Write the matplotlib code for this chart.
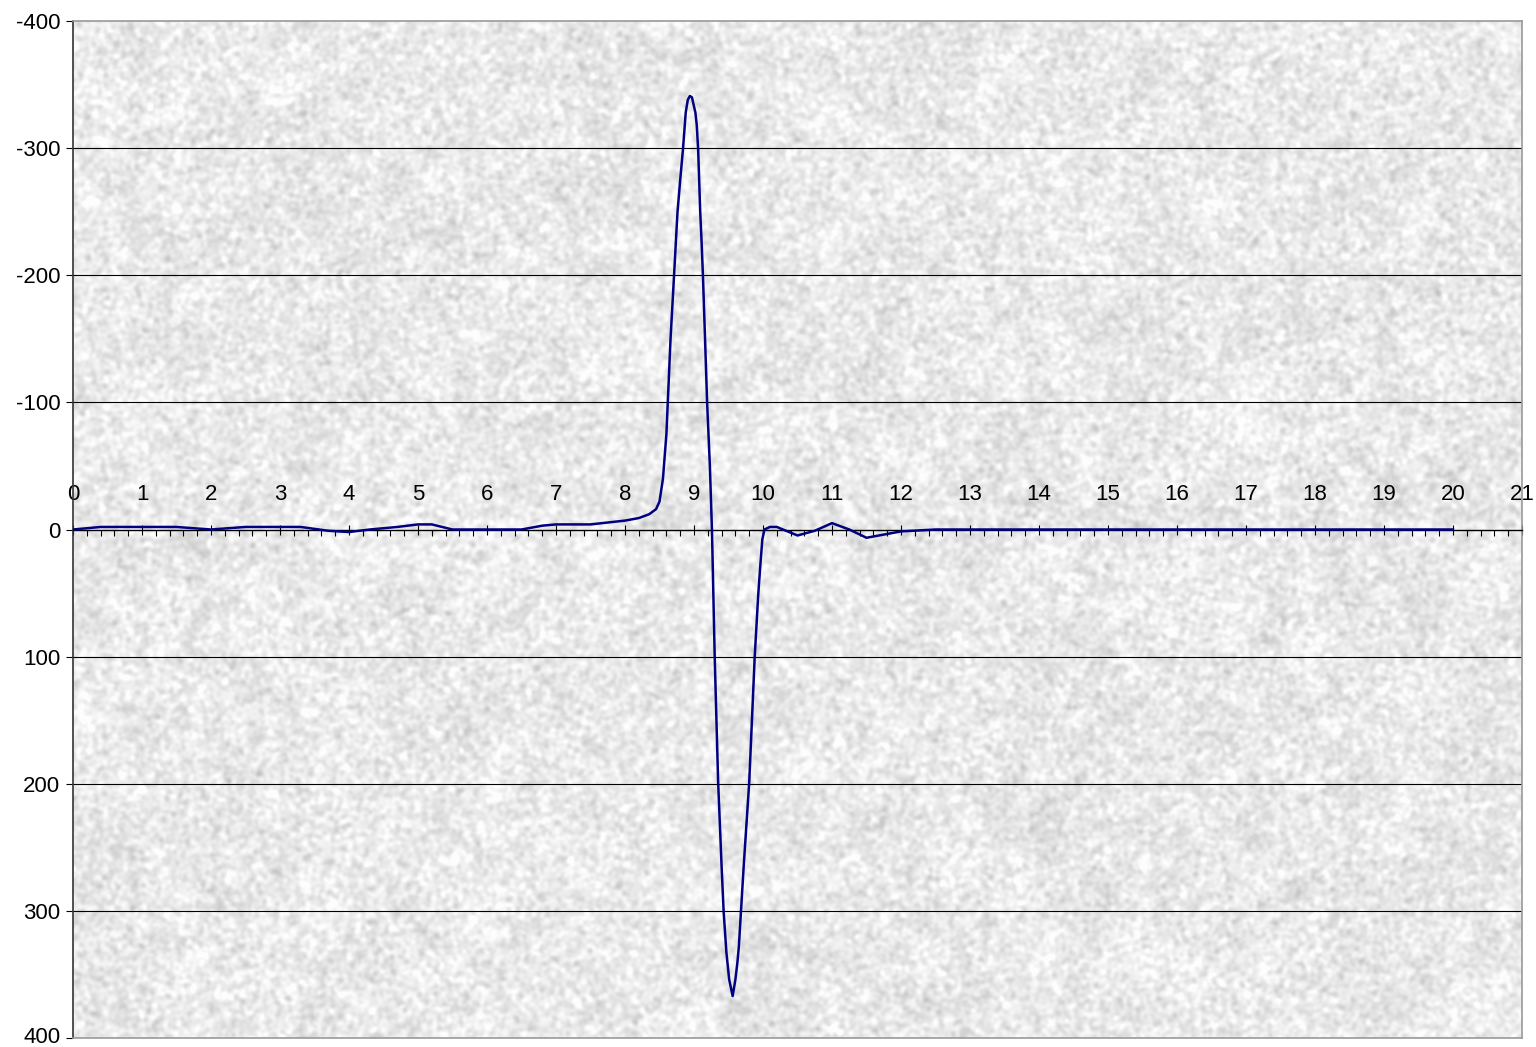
import matplotlib
matplotlib.use('Agg')
import matplotlib.pyplot as plt
import matplotlib.transforms as mtransforms
import numpy as np
from matplotlib.ticker import MultipleLocator, FuncFormatter

plt.rcParams['font.family'] = ['Liberation Sans', 'DejaVu Sans']

# signal (x in time units, y in amplitude; y axis inverted)
x_vals = [0, 0.4, 1.0, 1.5, 2.0, 2.5, 3.0, 3.3, 3.7, 4.0, 4.3, 4.7, 5.0, 5.2, 5.5,
          6.0, 6.5, 6.8, 7.0, 7.5, 8.0, 8.2, 8.35, 8.45, 8.5, 8.55, 8.6, 8.62, 8.66,
          8.71, 8.76, 8.80, 8.84, 8.88, 8.91, 8.94, 8.97, 9.02, 9.04, 9.06, 9.09,
          9.11, 9.13, 9.16, 9.19, 9.23, 9.26, 9.30, 9.35, 9.40, 9.43, 9.47, 9.51,
          9.56, 9.60, 9.63, 9.65, 9.68, 9.72, 9.80, 9.88, 9.93, 9.96, 9.99, 10.02,
          10.1, 10.2, 10.5, 10.75, 11.0, 11.25, 11.5, 11.75, 12.0, 12.5, 13, 14, 15,
          16, 17, 18, 19, 20]
y_vals = [0, -2, -2, -2, 0, -2, -2, -2, 1, 2, 0, -2, -4, -4, 0,
          0, 0, -3, -4, -4, -7, -9, -12, -16, -22, -40, -75, -100, -150,
          -199, -249, -275, -299, -328, -338, -341, -340, -328, -318, -299, -250,
          -226, -199, -150, -100, -50, 0, 100, 199, 265, 301, 333, 354,
          367, 354, 340, 328, 301, 265, 199, 100, 52, 29, 8, 0,
          -2, -2, 4.7, 1, -5, 0, 6.5, 4, 1.5, 0, 0, 0, 0,
          0, 0, 0, 0, 0]

y_ticks = [-400, -300, -200, -100, 0, 100, 200, 300, 400]

fig = plt.figure(figsize=(15.36, 10.47), dpi=100)
ax = fig.add_axes([73/1536, 1-1038/1047, (1522-73)/1536, (1038-21)/1047])

# fine granite-like background texture
rng = np.random.default_rng(3)
h, w = 1017, 1449
noise = rng.standard_normal((h, w))
k = np.fft.fftfreq(h)[:, None]**2 + np.fft.fftfreq(w)[None, :]**2
fine = np.real(np.fft.ifft2(np.fft.fft2(noise) * np.exp(-k * 80)))
fine = (fine - fine.mean()) / fine.std()
coarse = np.real(np.fft.ifft2(np.fft.fft2(rng.standard_normal((h, w))) * np.exp(-k * 3000)))
coarse = (coarse - coarse.mean()) / coarse.std()
tex = np.clip(0.915 + 0.035 * fine + 0.012 * coarse, 0.70, 0.99)
ax.imshow(tex, cmap='gray', vmin=0, vmax=1, extent=[0, 1, 0, 1],
          transform=ax.transAxes, aspect='auto', zorder=0, interpolation='nearest')

ax.plot(x_vals, y_vals, color='#000080', lw=1.8, zorder=3)

ax.set_xlim(0, 21)
ax.set_ylim(400, -400)

for yv in y_ticks[1:-1]:
    if yv != 0:
        ax.axhline(yv, color='black', lw=0.8, zorder=1)

ax.set_yticks(y_ticks)
ax.yaxis.set_major_formatter(FuncFormatter(lambda v, p: '%d' % v))
ax.tick_params(axis='y', direction='out', length=5, width=0.8, labelsize=16, pad=4)

# x axis drawn along y = 0 with labels above it
ax.spines['top'].set_position(('data', 0))
ax.spines['top'].set_color('black')
ax.spines['top'].set_linewidth(1.0)
ax.xaxis.set_ticks_position('top')
ax.xaxis.set_major_locator(MultipleLocator(1))
ax.xaxis.set_minor_locator(MultipleLocator(0.2))
ax.tick_params(axis='x', which='major', direction='inout', length=7, width=0.8,
               labelsize=16, pad=14)
ax.tick_params(axis='x', which='minor', direction='in', length=4, width=0.8)

ax.spines['left'].set_color('#333333')
ax.spines['left'].set_linewidth(1.2)
for s in ['right', 'bottom']:
    ax.spines[s].set_color('#999999')
    ax.spines[s].set_linewidth(1.2)
ax.plot([0, 1], [1, 1], transform=ax.transAxes, color='#999999', lw=1.2,
        clip_on=False, zorder=4)

# keep the bottom label inside the canvas
last = ax.yaxis.get_majorticklabels()[-1]
last.set_transform(last.get_transform() +
                   mtransforms.ScaledTranslation(0, 2/72, fig.dpi_scale_trans))

plt.savefig('out.png', dpi=100)
